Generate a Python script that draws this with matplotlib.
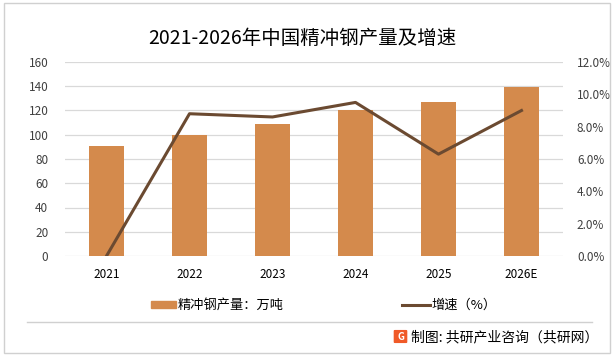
import matplotlib as mpl
from matplotlib import pyplot as plt
from matplotlib.patches import Rectangle, FancyBboxPatch
from matplotlib.lines import Line2D
from matplotlib.ticker import FuncFormatter

plt.rcParams['font.family'] = ['Noto Sans CJK SC', 'DejaVu Sans']

years = ["2021", "2022", "2023", "2024", "2025", "2026E"]
output = [91, 100, 109, 120, 127, 139]          # 万吨
growth = [0.0, 8.8, 8.6, 9.5, 6.3, 9.0]         # %

bar_color = "#D48A4C"
line_color = "#6B4A31"
grid_color = "#D9D9D9"
text_color = "#404040"

fig = plt.figure(figsize=(6.16, 3.59), dpi=100)
W, H = 616, 359

# outer frame and footer line
fig.patches.append(Rectangle((4 / W, 1 - 353 / H), 606 / W, 350 / H, transform=fig.transFigure,
                             fill=False, edgecolor="#D0D0D0", lw=1))
fig.add_artist(Line2D([27 / W, 592 / W], [1 - 322 / H] * 2, transform=fig.transFigure,
                      color="#D0D0D0", lw=1))

ax = fig.add_axes([65 / W, 1 - 256 / H, 498 / W, 194 / H])
x = range(len(years))
ax.bar(x, output, width=0.41, color=bar_color, zorder=2)
ax.set_ylim(0, 160)
ax.set_yticks(range(0, 161, 20))
ax.set_xlim(-0.5, len(years) - 0.5)
ax.set_xticks(list(x))
ax.set_xticklabels(years)
ax.grid(axis="y", color=grid_color, lw=0.9, zorder=0)
for s in ax.spines.values():
    s.set_visible(False)
ax.tick_params(axis="both", length=0, labelsize=8.5, colors=text_color)
ax.tick_params(axis="x", pad=9, colors="black")
ax.tick_params(axis="y", pad=12)

ax2 = ax.twinx()
ax2.plot(list(x), growth, color=line_color, lw=2.2, zorder=3)
ax2.set_ylim(0, 12)
ax2.set_yticks(range(0, 13, 2))
ax2.yaxis.set_major_formatter(FuncFormatter(lambda v, p: f"{v:.1f}%"))
for s in ax2.spines.values():
    s.set_visible(False)
ax2.tick_params(axis="y", length=0, labelsize=8.5, colors=text_color, pad=10)

fig.text(302 / W, 1 - 38 / H, "2021-2026年中国精冲钢产量及增速", ha="center", va="center",
         fontsize=14, color="black")

# legend
fig.patches.append(Rectangle((151 / W, 1 - 308 / H), 25 / W, 7 / H, transform=fig.transFigure,
                             color=bar_color))
fig.text(178 / W, 1 - 305 / H, "精冲钢产量：万吨", va="center", fontsize=9.5)
fig.add_artist(Line2D([402 / W, 430 / W], [1 - 305 / H] * 2, transform=fig.transFigure,
                      color=line_color, lw=2.2))
fig.text(431 / W, 1 - 305 / H, "增速（%）", va="center", fontsize=9.5)

# source
fig.patches.append(FancyBboxPatch((395 / W, 1 - 342 / H), 11 / W, 11 / H,
                                  boxstyle="round,pad=0.001", transform=fig.transFigure,
                                  color="#F05A28"))
fig.text(400.5 / W, 1 - 336.5 / H, "G", ha="center", va="center", fontsize=7,
         color="white", fontweight="bold")
fig.text(411 / W, 1 - 337 / H, "制图: 共研产业咨询（共研网）", va="center", fontsize=10)

fig.savefig("out.png", dpi=100)
